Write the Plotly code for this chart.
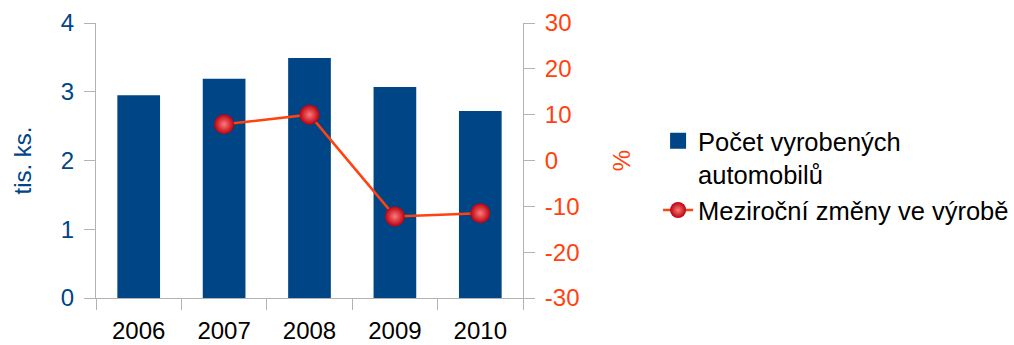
import plotly.graph_objects as go

# Výroba automobilů a meziroční změny
years = ["2006", "2007", "2008", "2009", "2010"]
production = [2.95, 3.19, 3.49, 3.07, 2.72]          # tis. ks.
change_years = ["2007", "2008", "2009", "2010"]
change_pct = [7.9, 10.0, -12.2, -11.5]                # %

left_ticks = [0, 1, 2, 3, 4]
right_ticks = [-30, -20, -10, 0, 10, 20, 30]
right_labels = [str(v) for v in right_ticks]  # plain hyphen-minus

BLUE = "#004586"
ORANGE = "#ff420e"
GRID = "#b3b3b3"
FONT = "Liberation Sans, Arial, sans-serif"

fig = go.Figure()

fig.add_trace(go.Bar(
    x=years, y=production,
    name="Počet vyrobených<br>automobilů",
    marker=dict(color=BLUE, line=dict(width=0)),
    showlegend=False,
))
# legend swatch for the bars (a larger square than the default bar swatch)
fig.add_trace(go.Scatter(
    x=[None], y=[None], mode="markers",
    name="Počet vyrobených<br>automobilů",
    marker=dict(symbol="square", size=16, color=BLUE),
    legendrank=1,
))

fig.add_trace(go.Scatter(
    x=change_years, y=change_pct, yaxis="y2",
    mode="lines+markers",
    name="Meziroční změny ve výrobě",
    line=dict(color=ORANGE, width=2.5),
    marker=dict(symbol="circle", size=20, color="#b8000e",
                gradient=dict(type="radial", color="#ff7a7a"),
                line=dict(width=0)),
    legendrank=2,
))

fig.update_layout(
    width=1014, height=345,
    margin=dict(l=96, r=491, t=23, b=47),
    paper_bgcolor="white", plot_bgcolor="white",
    font=dict(family=FONT, size=24, color="black"),
    bargap=0.5,
    xaxis=dict(
        type="category", showline=True, linecolor=GRID, linewidth=1,
        ticks="outside", tickson="boundaries", ticklen=11, tickcolor=GRID,
        showgrid=False, tickfont=dict(color="black", size=24),
        ticklabelstandoff=11, automargin=False,
    ),
    yaxis=dict(
        range=[0, 4], tickvals=left_ticks, showline=True, linecolor=GRID,
        ticks="outside", ticklen=11, tickcolor=GRID, showgrid=False,
        zeroline=False, tickfont=dict(color=BLUE, size=24),
        ticklabelstandoff=5, automargin=False,
        title=dict(text="tis. ks.", font=dict(color=BLUE, size=24), standoff=22),
    ),
    yaxis2=dict(
        range=[-30, 30], tickvals=right_ticks, ticktext=right_labels,
        overlaying="y", side="right",
        showline=True, linecolor=GRID, ticks="outside", ticklen=11,
        tickcolor=GRID, showgrid=False, zeroline=False,
        tickfont=dict(color=ORANGE, size=24), ticklabelstandoff=5,
        automargin=False,
        title=dict(text="%", font=dict(color=ORANGE, size=24), standoff=34),
    ),
    legend=dict(
        xref="container", yref="container",
        x=0.649, xanchor="left", y=0.659, yanchor="top",
        valign="top", bgcolor="rgba(0,0,0,0)",
        font=dict(size=25.5, color="black"), tracegroupgap=0,
    ),
)

fig.write_html("out.html")
